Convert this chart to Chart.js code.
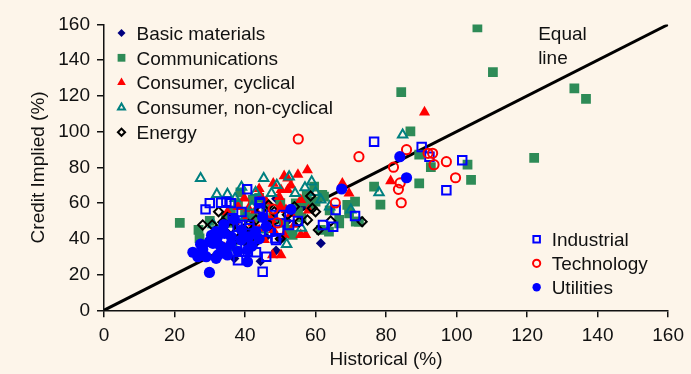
<!DOCTYPE html>
<html>
<head>
<meta charset="utf-8">
<script src="https://cdn.jsdelivr.net/npm/chart.js@4.4.1/dist/chart.umd.min.js"></script>
<style>
  html, body { margin: 0; padding: 0; background: #fdf5ea; }
  #wrap { width: 691px; height: 374px; position: relative; }
</style>
</head>
<body>
<div id="wrap"><canvas id="chart-credit" width="691" height="374"></canvas></div>
<script>
// sector names, in drawing order
var sectors = ["Basic materials", "Communications", "Consumer, cyclical", "Consumer, non-cyclical",
               "Energy", "Industrial", "Technology", "Utilities"];

// [historical %, credit implied %]
var basicMaterials = [[37, 29], [44.4, 27.5], [61.5, 37.5], [48.8, 62.5], [40.5, 37], [33, 33], [46, 41],
  [52, 50], [30, 40], [42, 45], [56, 58], [37, 48], [50, 39.5], [48.8, 33.5]];
var communications = [[105.9, 158.4], [110.3, 133.3], [84.3, 122.2], [133.4, 124.3], [136.7, 118.3],
  [86.9, 100.2], [122, 85.3], [89.4, 87.1], [92.7, 80.1], [103.1, 81.5], [104.1, 73], [89.4, 71.1],
  [76.6, 69.2], [78.4, 59.1], [21.5, 49], [26.8, 45], [27.1, 40.3], [38.7, 66], [42.2, 61.8],
  [57.5, 64.6], [62.4, 63.6], [66.7, 50.6], [71.2, 60.8], [71.4, 49.6], [60, 60.8], [58.6, 59],
  [54.4, 59.9], [46, 58], [61.5, 45], [72.3, 49.6], [69, 59], [69.5, 54.3], [66.7, 48.7], [63.8, 44],
  [61.9, 64.6], [59.6, 69.2], [53.5, 42.2], [34.6, 52.4], [36, 56], [30, 50], [33, 45], [40, 55],
  [43, 52], [48, 52], [50, 60], [52, 45], [56, 52], [44, 63], [38, 60], [41, 52], [35, 49], [47, 48],
  [51, 49], [55, 55], [64, 56], [57, 61]];
var consumerCyclical = [[90.9, 110.9], [81.3, 72.4], [39.8, 62.7], [44.5, 63.6], [51.1, 75.2],
  [57.7, 78.5], [50.2, 67.4], [52.1, 67.4], [49.7, 63.6], [67.6, 71.1], [69.5, 65.5], [51.6, 56.2],
  [47.4, 50.6], [55.8, 42.2], [57.2, 42.2], [51.1, 42.2], [47.8, 31], [50.2, 31], [42.2, 48.7],
  [39.8, 51.5], [45.5, 39.4], [52.1, 73.9], [55.8, 61.8], [35, 55], [37, 50], [43, 56], [48, 45],
  [53, 54], [46, 61], [34.2, 35], [54, 48], [44, 68], [48, 71], [53, 70], [55, 76], [46, 52],
  [41, 57], [58, 56], [50, 58], [44, 45], [38, 58]];
var consumerNonCyclical = [[84.7, 98.2], [78, 65.9], [27.4, 73.9], [32, 65], [35, 65], [37.2, 62.7],
  [45.3, 73.9], [52.5, 74.8], [58.9, 72], [47.5, 65.5], [54.2, 65.5], [57, 68.7], [61.5, 61.8],
  [70, 56.2], [51.8, 37], [37, 35], [42, 58], [40, 52], [31, 48], [45, 45], [56, 46], [39, 69],
  [43, 66], [49, 70], [60, 66], [64, 58]];
var energy = [[32.5, 55.2], [28, 47.8], [30.7, 47.8], [33.7, 49.3], [40.5, 42.2], [43.1, 38.4],
  [46.9, 47.8], [55.4, 49.6], [58.6, 64], [46.7, 59], [57.7, 50.6], [60, 55.2], [60.8, 45],
  [73.2, 49.6], [43.1, 50.6], [48.3, 55.2], [64.3, 50], [59.1, 57.1], [44.5, 56], [52, 53.5],
  [38, 40], [36, 46], [50, 40], [35, 52], [54, 58], [41, 48]];
var industrial = [[76.6, 94.4], [90.1, 91.4], [92.3, 86], [101.6, 84], [97.1, 67.2], [28.8, 56.5],
  [33.2, 60.2], [40.6, 67.8], [34.7, 60.8], [44.1, 60.8], [44.1, 57.1], [36.5, 51.5], [38.9, 47.8],
  [41.2, 47.8], [32.3, 43.1], [37.9, 46.8], [41.2, 45.9], [44.5, 44], [46.9, 44], [52.5, 47.8],
  [48.8, 39.4], [34.6, 31.9], [40.8, 32.8], [46, 30], [45, 21.6], [37.7, 36.2], [43.1, 32.5],
  [44.3, 59.9], [65.7, 56.2], [71.2, 52.8], [62.1, 47.8], [65, 46.8], [50.2, 53.4], [49.7, 45],
  [48.6, 40.3], [47.4, 53.4], [30, 60], [36, 60], [39, 55], [42, 40], [55, 50], [38, 28]];
var technology = [[72.3, 86], [85.8, 89.9], [82.1, 80.1], [91.9, 87.9], [93.2, 87.9], [93.6, 81.5],
  [97.1, 83.2], [99.7, 74.2], [84, 71.3], [83.5, 67.7], [84.3, 60.2], [55.1, 95.9], [65.6, 60.1],
  [48, 56.7], [49.2, 48.9]];
var utilities = [[83.9, 86], [85.8, 74.2], [67.4, 67.9], [53, 56.5], [27.4, 37], [25.2, 32.5],
  [26.6, 30], [29, 30], [29.9, 38.4], [30.9, 37.5], [32.3, 31], [31.8, 29.1], [29.9, 21.2],
  [31.8, 44], [34.2, 43.1], [36.1, 41.2], [34.6, 34.7], [38.9, 39.4], [40.8, 33.8], [40.7, 27.2],
  [32, 40], [38, 33], [42, 36], [44, 40], [34, 48], [37, 51], [30.5, 42], [46, 47], [45, 52],
  [41, 41], [36, 37], [33, 36], [28, 34], [39, 45], [43, 44], [35, 31]];

// equal line end points and ticks
var equalLine = [[0, 0], [160, 160]];
var xTicks = [0, 20, 40, 60, 80, 100, 120, 140, 160];
var yTicks = [0, 20, 40, 60, 80, 100, 120, 140, 160];

var FONT = "'Liberation Sans', Arial, Helvetica, sans-serif";
var INK = '#111111';

function pts(arr) {
  return arr.map(function(p) { return {x: p[0], y: p[1]}; });
}

var series = [
  {data: basicMaterials, style: 'rectRot', r: 5, fill: '#000080', line: '#000080', w: 0, lr: 4},
  {data: communications, style: 'rect', r: 6.9, fill: '#2e8b57', line: '#2e8b57', w: 0, lr: 5.5},
  {data: consumerCyclical, style: 'triangle', r: 6.4, fill: '#ff0000', line: '#ff0000', w: 0, lr: 5},
  {data: consumerNonCyclical, style: 'triangle', r: 5.4, fill: 'rgba(0,0,0,0)', line: '#008080', w: 2, lr: 4},
  {data: energy, style: 'rectRot', r: 4.6, fill: 'rgba(0,0,0,0)', line: '#000000', w: 2, lr: 3.6},
  {data: industrial, style: 'rect', r: 6, fill: 'rgba(0,0,0,0)', line: '#0000ff', w: 2, lr: 4.6},
  {data: technology, style: 'circle', r: 4.6, fill: 'rgba(0,0,0,0)', line: '#ff0000', w: 2, lr: 3.6},
  {data: utilities, style: 'circle', r: 5.6, fill: '#0000ff', line: '#0000ff', w: 0, lr: 4.2}
];

var datasets = series.map(function(s, i) {
  return {
    type: 'scatter',
    label: sectors[i],
    data: pts(s.data),
    pointStyle: s.style,
    pointRadius: s.r,
    pointHoverRadius: s.r,
    backgroundColor: s.fill,
    borderColor: s.line,
    pointBorderWidth: s.w,
    order: 20 - i
  };
});
datasets.push({
  type: 'line',
  label: 'Equal line',
  data: pts(equalLine),
  borderColor: '#000000',
  borderWidth: 3,
  pointRadius: 0,
  fill: false,
  order: 50
});

// sector key (two groups) and the "Equal line" note
var keyPlugin = {
  id: 'sectorKey',
  afterDraw: function(chart) {
    var ctx = chart.ctx, a = chart.chartArea;
    var groups = [
      {items: [0, 1, 2, 3, 4], mx: a.left + 17.5, y0: a.top + 8.5, step: 24.8},
      {items: [5, 6, 7], mx: a.right - 131.5, y0: a.bottom - 71, step: 24}
    ];
    ctx.save();
    ctx.font = '19px ' + FONT;
    ctx.fillStyle = INK;
    ctx.textBaseline = 'alphabetic';
    groups.forEach(function(g) {
      g.items.forEach(function(idx, k) {
        var s = series[idx];
        var y = g.y0 + k * g.step;
        ctx.save();
        ctx.fillStyle = s.fill;
        ctx.strokeStyle = s.line;
        ctx.lineWidth = s.w || 0.01;
        Chart.helpers.drawPoint(ctx, {pointStyle: s.style, radius: s.lr, borderWidth: s.w, rotation: 0},
          g.mx, y);
        ctx.restore();
        ctx.fillStyle = INK;
        ctx.fillText(sectors[idx], g.mx + 15, y + 6.8);
      });
    });
    var ex = a.right - 130;
    ctx.fillText('Equal', ex, a.top + 15.5);
    ctx.fillText('line', ex, a.top + 39.5);
    ctx.restore();
  }
};

var ctx = document.getElementById('chart-credit');
var creditChart = new Chart(ctx, {
  data: {datasets: datasets},
  plugins: [keyPlugin],
  options: {
    responsive: false,
    animation: false,
    events: [],
    layout: {padding: {top: 24.5, right: 20.5, left: 0, bottom: 0}},
    plugins: {legend: {display: false}, tooltip: {enabled: false}},
    scales: {
      x: {
        type: 'linear',
        min: 0,
        max: 160,
        afterBuildTicks: function(s) { s.ticks = xTicks.map(function(v) { return {value: v}; }); },
        afterFit: function(s) { s.height = 63.7; },
        grid: {drawOnChartArea: false, drawTicks: true, tickLength: 7, color: INK, lineWidth: 1.5},
        border: {display: true, color: INK, width: 1.5},
        ticks: {color: INK, padding: 7, font: {family: FONT, size: 19}, maxRotation: 0},
        title: {display: true, text: 'Historical (%)', color: INK, font: {family: FONT, size: 19},
                padding: {top: 0, bottom: 3}}
      },
      y: {
        type: 'linear',
        min: 0,
        max: 160,
        afterBuildTicks: function(s) { s.ticks = yTicks.map(function(v) { return {value: v}; }); },
        afterFit: function(s) { s.width = 104; },
        grid: {drawOnChartArea: false, drawTicks: true, tickLength: 7, color: INK, lineWidth: 1.5},
        border: {display: true, color: INK, width: 1.5},
        ticks: {color: INK, padding: 7, font: {family: FONT, size: 19}},
        title: {display: true, text: 'Credit Implied (%)', color: INK, font: {family: FONT, size: 19},
                padding: {top: 27, bottom: 0}}
      }
    }
  }
});
</script>
</body>
</html>
